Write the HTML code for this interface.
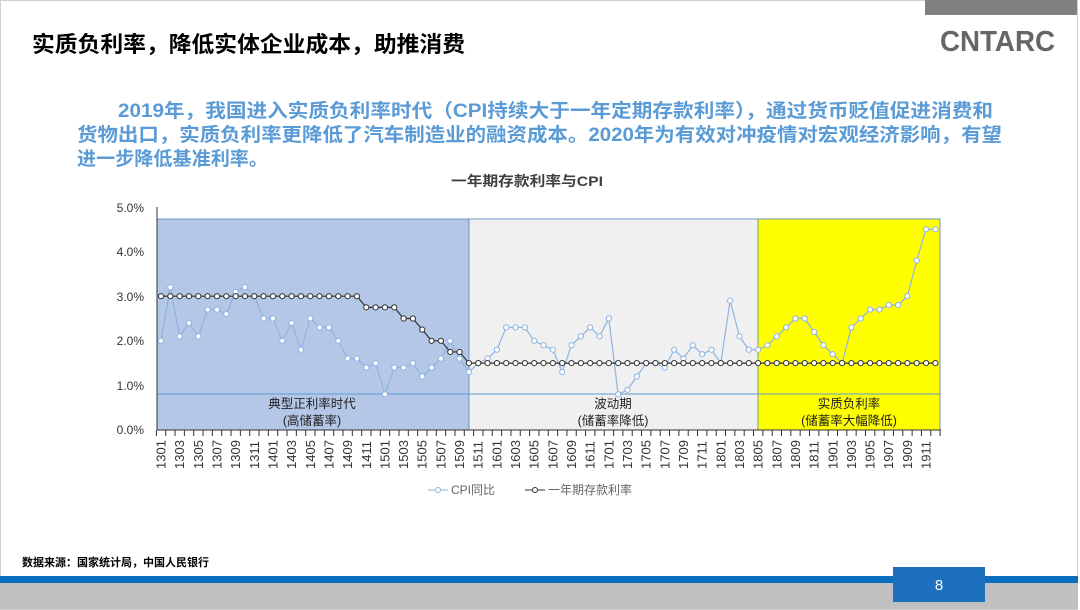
<!DOCTYPE html>
<html><head><meta charset="utf-8"><style>
html,body{margin:0;padding:0;background:#fff}
svg{display:block}
text{font-family:"Liberation Sans","Noto Sans CJK SC",sans-serif}
</style></head><body>
<svg id="s" width="1080" height="610" viewBox="0 0 1080 610" xmlns="http://www.w3.org/2000/svg">
<rect x="0.5" y="0.5" width="1077" height="609" fill="#fff" stroke="#d0d0d0"/>
<rect x="925" y="0" width="152" height="15" fill="#808080"/>
<text x="940" y="51" font-size="29" font-weight="bold" fill="#666" textLength="115" lengthAdjust="spacingAndGlyphs">CNTARC</text>
<text x="32" y="52" font-size="22" font-weight="bold" fill="#000" textLength="433" lengthAdjust="spacingAndGlyphs">实质负利率，降低实体企业成本，助推消费</text>
<g font-size="19" font-weight="bold" fill="#5b9bd5">
<text x="118" y="117" textLength="875" lengthAdjust="spacingAndGlyphs">2019年，我国进入实质负利率时代（CPI持续大于一年定期存款利率），通过货币贬值促进消费和</text>
<text x="77" y="141" textLength="925" lengthAdjust="spacingAndGlyphs">货物出口，实质负利率更降低了汽车制造业的融资成本。2020年为有效对冲疫情对宏观经济影响，有望</text>
<text x="77" y="165" textLength="191" lengthAdjust="spacingAndGlyphs">进一步降低基准利率。</text>
</g>
<text x="451" y="186" font-size="14" font-weight="bold" fill="#404040" textLength="152" lengthAdjust="spacingAndGlyphs">一年期存款利率与CPI</text>

<rect x="157" y="219" width="312" height="211" fill="#b4c7e7"/>
<rect x="469" y="219" width="289" height="211" fill="#f0f0f0"/>
<rect x="758" y="219" width="182" height="211" fill="#ffff00"/>
<rect x="157" y="219" width="783" height="211" fill="none" stroke="#4f81bd" stroke-width="0.8"/>
<line x1="469" y1="219" x2="469" y2="430" stroke="#4f81bd" stroke-width="0.8"/>
<line x1="758" y1="219" x2="758" y2="430" stroke="#4f81bd" stroke-width="0.8"/>
<line x1="157" y1="394" x2="940" y2="394" stroke="#5b9bd5" stroke-width="1"/>
<g font-size="12.5" fill="#222" text-anchor="middle">
<text x="312" y="408">典型正利率时代</text><text x="312" y="425">(高储蓄率)</text>
<text x="613" y="408">波动期</text><text x="613" y="425">(储蓄率降低)</text>
<text x="849" y="408">实质负利率</text><text x="849" y="425">(储蓄率大幅降低)</text>
</g>
<line x1="157" y1="207" x2="157" y2="430" stroke="#333"/>
<line x1="157" y1="430" x2="941" y2="430" stroke="#333"/>
<g font-size="12" fill="#333" text-anchor="end">
<text x="144" y="434">0.0%</text><text x="144" y="390">1.0%</text><text x="144" y="345">2.0%</text>
<text x="144" y="301">3.0%</text><text x="144" y="256">4.0%</text><text x="144" y="212">5.0%</text>
</g>
<g id="ticks" stroke="#333"></g>
<g id="series"></g>
<g font-size="13" fill="#333">
<text transform="translate(165.5,469) rotate(-90)">1301</text>
<text transform="translate(184.2,469) rotate(-90)">1303</text>
<text transform="translate(202.8,469) rotate(-90)">1305</text>
<text transform="translate(221.5,469) rotate(-90)">1307</text>
<text transform="translate(240.1,469) rotate(-90)">1309</text>
<text transform="translate(258.8,469) rotate(-90)">1311</text>
<text transform="translate(277.5,469) rotate(-90)">1401</text>
<text transform="translate(296.1,469) rotate(-90)">1403</text>
<text transform="translate(314.8,469) rotate(-90)">1405</text>
<text transform="translate(333.4,469) rotate(-90)">1407</text>
<text transform="translate(352.1,469) rotate(-90)">1409</text>
<text transform="translate(370.8,469) rotate(-90)">1411</text>
<text transform="translate(389.4,469) rotate(-90)">1501</text>
<text transform="translate(408.1,469) rotate(-90)">1503</text>
<text transform="translate(426.7,469) rotate(-90)">1505</text>
<text transform="translate(445.4,469) rotate(-90)">1507</text>
<text transform="translate(464.1,469) rotate(-90)">1509</text>
<text transform="translate(482.7,469) rotate(-90)">1511</text>
<text transform="translate(501.4,469) rotate(-90)">1601</text>
<text transform="translate(520.0,469) rotate(-90)">1603</text>
<text transform="translate(538.7,469) rotate(-90)">1605</text>
<text transform="translate(557.4,469) rotate(-90)">1607</text>
<text transform="translate(576.0,469) rotate(-90)">1609</text>
<text transform="translate(594.7,469) rotate(-90)">1611</text>
<text transform="translate(613.3,469) rotate(-90)">1701</text>
<text transform="translate(632.0,469) rotate(-90)">1703</text>
<text transform="translate(650.7,469) rotate(-90)">1705</text>
<text transform="translate(669.3,469) rotate(-90)">1707</text>
<text transform="translate(688.0,469) rotate(-90)">1709</text>
<text transform="translate(706.6,469) rotate(-90)">1711</text>
<text transform="translate(725.3,469) rotate(-90)">1801</text>
<text transform="translate(744.0,469) rotate(-90)">1803</text>
<text transform="translate(762.6,469) rotate(-90)">1805</text>
<text transform="translate(781.3,469) rotate(-90)">1807</text>
<text transform="translate(799.9,469) rotate(-90)">1809</text>
<text transform="translate(818.6,469) rotate(-90)">1811</text>
<text transform="translate(837.3,469) rotate(-90)">1901</text>
<text transform="translate(855.9,469) rotate(-90)">1903</text>
<text transform="translate(874.6,469) rotate(-90)">1905</text>
<text transform="translate(893.2,469) rotate(-90)">1907</text>
<text transform="translate(911.9,469) rotate(-90)">1909</text>
<text transform="translate(930.6,469) rotate(-90)">1911</text>
</g>
<g font-size="12" fill="#666">
<line x1="428" y1="490" x2="448" y2="490" stroke="#8db4e2"/><circle cx="438" cy="490" r="2.5" fill="#fff" stroke="#8db4e2"/>
<text x="451" y="494">CPI同比</text>
<line x1="525" y1="490" x2="545" y2="490" stroke="#333"/><circle cx="535" cy="490" r="2.5" fill="#fff" stroke="#333"/>
<text x="548" y="494">一年期存款利率</text>
</g>
<text x="22" y="566" font-size="11" font-weight="bold" fill="#000">数据来源：国家统计局，中国人民银行</text>
<rect x="0" y="576" width="1078" height="7" fill="#0a6fbd"/>
<rect x="0" y="583" width="1078" height="26" fill="#c0c0c0"/>
<rect x="893" y="567" width="92" height="35" fill="#1f6fbf"/>
<text x="939" y="590" font-size="15" fill="#fff" text-anchor="middle">8</text>
</svg>
<script>
var cpi=[2.0,3.2,2.1,2.4,2.1,2.7,2.7,2.6,3.1,3.2,3.0,2.5,2.5,2.0,2.4,1.8,2.5,2.3,2.3,2.0,1.6,1.6,1.4,1.5,0.8,1.4,1.4,1.5,1.2,1.4,1.6,2.0,1.6,1.3,1.5,1.6,1.8,2.3,2.3,2.3,2.0,1.9,1.8,1.3,1.9,2.1,2.3,2.1,2.5,0.8,0.9,1.2,1.5,1.5,1.4,1.8,1.6,1.9,1.7,1.8,1.5,2.9,2.1,1.8,1.8,1.9,2.1,2.3,2.5,2.5,2.2,1.9,1.7,1.5,2.3,2.5,2.7,2.7,2.8,2.8,3.0,3.8,4.5,4.5];
var rate=[];for(var i=0;i<84;i++){var r=1.5;if(i<=21)r=3;else if(i<=25)r=2.75;else if(i<=27)r=2.5;else if(i==28)r=2.25;else if(i<=30)r=2;else if(i<=32)r=1.75;rate.push(r);}
function X(i){return 161+9.33*i}function Y(v){return 430-44.6*v}
var ns="http://www.w3.org/2000/svg",g=document.getElementById('series'),t=document.getElementById('ticks');
for(var i=0;i<=84;i++){var l=document.createElementNS(ns,'line');var x=156.4+9.33*i;l.setAttribute('x1',x);l.setAttribute('x2',x);l.setAttribute('y1',430);l.setAttribute('y2',436);t.appendChild(l);}
function draw(d,c){var p=d.map(function(v,i){return X(i)+','+Y(v)}).join(' ');var pl=document.createElementNS(ns,'polyline');pl.setAttribute('points',p);pl.setAttribute('fill','none');pl.setAttribute('stroke',c);pl.setAttribute('stroke-width','1.2');g.appendChild(pl);
d.forEach(function(v,i){var ci=document.createElementNS(ns,'circle');ci.setAttribute('cx',X(i));ci.setAttribute('cy',Y(v));ci.setAttribute('r',2.6);ci.setAttribute('fill','#fff');ci.setAttribute('stroke',c);g.appendChild(ci);});}
draw(cpi,'#8db4e2');draw(rate,'#333');
</script>
</body></html>
